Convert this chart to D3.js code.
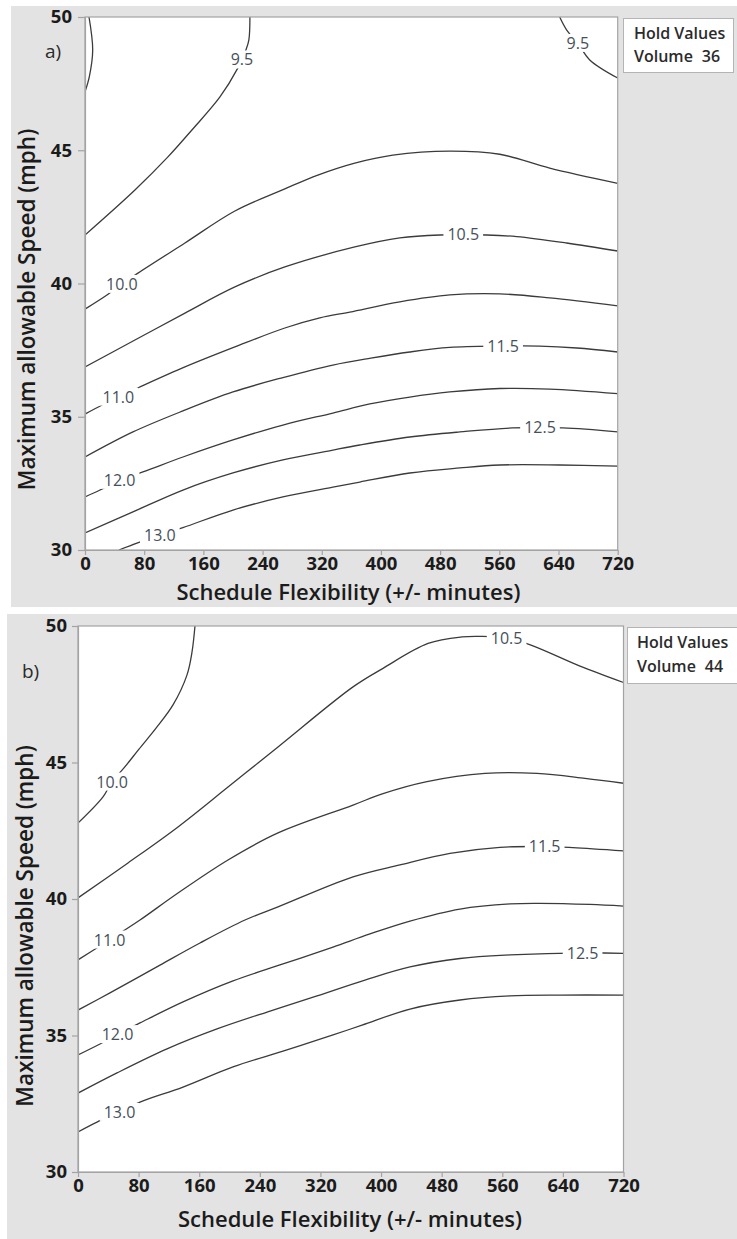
<!DOCTYPE html>
<html>
<head>
<meta charset="utf-8">
<script src="https://cdn.jsdelivr.net/npm/d3@7"></script>
<style>
  html, body { margin: 0; padding: 0; background: #ffffff; }
  svg { display: block; }
  text { font-family: "Open Sans", "Noto Sans", "DejaVu Sans", sans-serif; }
</style>
</head>
<body>
<svg id="chart" width="737" height="1239"></svg>
<script>
// Axis ticks shared by both panels
const xTickValues = [0, 80, 160, 240, 320, 400, 480, 560, 640, 720];
const yTickValues = [30, 35, 40, 45, 50];
const xDomain = [0, 720];
const yDomain = [30, 50];

const xTitle = "Schedule Flexibility (+/- minutes)";
const yTitle = "Maximum allowable Speed (mph)";
const panelLetters = ["a)", "b)"];
const holdVolumes = [36, 44];

// Contour lines, panel a (Volume held at 36): [minutes, mph] points along each level
const contoursA = [
  { level: 9.0, labelAt: null,
    pts: [[5.4, 50.0], [10.4, 48.76], [5.8, 47.75], [0, 47.19]] },
  { level: 9.5, labelAt: 212,
    pts: [[222.9, 50.0], [221.5, 49.14], [217.5, 48.76], [206.7, 48.09], [182.4, 47.0],
          [144.5, 45.76], [112.1, 44.75], [67.5, 43.51], [0, 41.82]] },
  { level: 9.5, labelAt: 666,
    pts: [[641.6, 50.0], [651.1, 49.51], [666.0, 49.02], [682.2, 48.39], [720, 47.71]] },
  { level: 10.0, labelAt: 50,
    pts: [[0, 39.04], [29.7, 39.57], [50.0, 39.98], [71.6, 40.39], [135.1, 41.52], [202.6, 42.72],
          [270.1, 43.55], [314.7, 44.07], [364.7, 44.52], [416.1, 44.82], [493.1, 44.97],
          [560.6, 44.85], [628.1, 44.33], [720, 43.76]] },
  { level: 10.5, labelAt: 511,
    pts: [[0, 36.87], [67.5, 37.88], [135.1, 38.89], [202.6, 39.87], [270.1, 40.62], [364.7, 41.37],
          [425.5, 41.71], [479.5, 41.82], [543.0, 41.82], [583.6, 41.76], [651.1, 41.52], [720, 41.22]] },
  { level: 11.0, labelAt: 45,
    pts: [[0, 35.10], [23.0, 35.44], [44.6, 35.74], [74.3, 36.12], [135.1, 36.87], [202.6, 37.62],
          [270.1, 38.33], [317.4, 38.71], [358.0, 38.93], [425.5, 39.31], [493.1, 39.57], [560.6, 39.61],
          [628.1, 39.46], [720, 39.16]] },
  { level: 11.5, labelAt: 565,
    pts: [[0, 33.49], [64.8, 34.43], [132.4, 35.22], [200.0, 35.93], [267.5, 36.47], [335.0, 36.94],
          [386.3, 37.20], [439.0, 37.43], [493.1, 37.60], [560.6, 37.65], [614.6, 37.65],
          [664.6, 37.58], [720, 37.43]] },
  { level: 12.0, labelAt: 47,
    pts: [[0, 31.99], [20.3, 32.25], [47.3, 32.63], [78.3, 32.93], [132.4, 33.49], [200.0, 34.13],
          [267.5, 34.69], [335.0, 35.14], [385.0, 35.48], [439.0, 35.74], [493.1, 35.93],
          [560.6, 36.06], [628.1, 36.04], [720, 35.87]] },
  { level: 12.5, labelAt: 615,
    pts: [[0, 30.64], [64.8, 31.43], [132.4, 32.25], [200.0, 32.89], [267.5, 33.38], [335.0, 33.75],
          [371.5, 33.94], [439.0, 34.24], [506.6, 34.43], [578.2, 34.58], [645.7, 34.58], [720, 34.43]] },
  { level: 13.0, labelAt: 101,
    pts: [[45.9, 30.0], [70.2, 30.26], [101.3, 30.56], [132.4, 30.84], [200.0, 31.50], [267.5, 31.99],
          [335.0, 32.36], [371.5, 32.55], [439.0, 32.89], [506.6, 33.08], [560.6, 33.19],
          [641.6, 33.19], [720, 33.15]] }
];

// Contour lines, panel b (Volume held at 44)
const contoursB = [
  { level: 10.0, labelAt: 45,
    pts: [[154.4, 50.0], [150.5, 49.05], [143.9, 48.21], [125.4, 47.11], [103.0, 46.26], [80.5, 45.49],
          [60.7, 44.80], [44.9, 44.29], [33.0, 43.74], [0, 42.78]] },
  { level: 10.5, labelAt: 566,
    pts: [[0, 40.04], [66.0, 41.32], [132.0, 42.64], [198.0, 44.10], [264.0, 45.57], [363.0, 47.77],
          [402.6, 48.45], [462.0, 49.36], [506.8, 49.60], [530.6, 49.62], [566.3, 49.56],
          [597.9, 49.30], [662.6, 48.53], [720, 47.93]] },
  { level: 11.0, labelAt: 42,
    pts: [[0, 37.77], [29.0, 38.28], [55.4, 38.75], [81.8, 39.23], [132.0, 40.22], [198.0, 41.43],
          [264.0, 42.42], [363.0, 43.44], [402.6, 43.86], [460.6, 44.30], [537.2, 44.60],
          [605.8, 44.60], [669.2, 44.42], [720, 44.24]] },
  { level: 11.5, labelAt: 616,
    pts: [[0, 35.93], [42.2, 36.56], [108.2, 37.58], [161.0, 38.39], [220.4, 39.23], [264.0, 39.71],
          [363.0, 40.81], [425.0, 41.25], [491.0, 41.67], [557.0, 41.89], [616.4, 41.92],
          [653.3, 41.88], [720, 41.76]] },
  { level: 12.0, labelAt: 52,
    pts: [[0, 34.29], [29.0, 34.69], [55.4, 35.09], [81.8, 35.46], [138.6, 36.23], [204.6, 37.00],
          [270.6, 37.62], [336.6, 38.24], [385.4, 38.72], [438.2, 39.19], [504.2, 39.63],
          [570.2, 39.82], [609.8, 39.84], [675.8, 39.80], [720, 39.74]] },
  { level: 12.5, labelAt: 666,
    pts: [[0, 32.89], [51.5, 33.63], [117.5, 34.51], [183.5, 35.24], [249.5, 35.86], [315.5, 36.45],
          [378.8, 37.03], [438.2, 37.51], [504.2, 37.82], [570.2, 37.95], [666.6, 38.03], [720, 38.01]] },
  { level: 13.0, labelAt: 55,
    pts: [[0, 31.47], [25.1, 31.83], [55.4, 32.20], [81.8, 32.56], [138.6, 33.11], [204.6, 33.85],
          [270.6, 34.43], [336.6, 35.02], [374.9, 35.38], [438.2, 35.97], [504.2, 36.30],
          [570.2, 36.45], [636.2, 36.48], [720, 36.48]] }
];

const svg = d3.select("#chart");

// Page geometry of each panel
const panels = [
  { id: "a", contours: contoursA, letter: panelLetters[0], volume: holdVolumes[0],
    bg: [11, 6, 726, 601], left: 85, right: 617.7, top: 17, bottom: 550,
    yTick: { size: 7, pad: 6 },
    legend: { x: 623, y: 18, w: 110, h: 54, tx: 634, ty1: 39, ty2: 62 },
    xTitle: { x: 348.4, y: 600 }, yTitle: { x: 35, y: 309.5 },
    letterPos: { x: 45, y: 58 } },
  { id: "b", contours: contoursB, letter: panelLetters[1], volume: holdVolumes[1],
    bg: [7, 614, 730, 625], left: 78, right: 623.5, top: 626, bottom: 1172,
    yTick: { size: 6, pad: 5 },
    legend: { x: 627, y: 627, w: 112, h: 56, tx: 637, ty1: 648, ty2: 672 },
    xTitle: { x: 350, y: 1227 }, yTitle: { x: 33, y: 926 },
    letterPos: { x: 22, y: 678 } }
];

const lineColor = "#3b3b3b";
const frameColor = "#a3a3a3";
const labelColor = "#46505b";
const textColor = "#1b1b1b";

panels.forEach(p => {
  const g = svg.append("g").attr("class", "panel-" + p.id);

  g.append("rect")
    .attr("x", p.bg[0]).attr("y", p.bg[1])
    .attr("width", p.bg[2]).attr("height", p.bg[3])
    .attr("fill", "#e3e3e3");

  const x = d3.scaleLinear().domain(xDomain).range([p.left, p.right]);
  const y = d3.scaleLinear().domain(yDomain).range([p.bottom, p.top]);

  // plot area
  g.append("rect")
    .attr("x", p.left).attr("y", p.top)
    .attr("width", p.right - p.left).attr("height", p.bottom - p.top)
    .attr("fill", "#ffffff");

  const clipId = "clip-" + p.id;
  g.append("clipPath").attr("id", clipId)
    .append("rect")
    .attr("x", p.left).attr("y", p.top)
    .attr("width", p.right - p.left).attr("height", p.bottom - p.top);

  const line = d3.line()
    .x(d => x(d[0]))
    .y(d => y(d[1]))
    .curve(d3.curveCatmullRom.alpha(0.5));

  const linesG = g.append("g").attr("clip-path", `url(#${clipId})`);
  const paths = p.contours.map(c =>
    linesG.append("path")
      .attr("d", line(c.pts))
      .attr("fill", "none")
      .attr("stroke", lineColor)
      .attr("stroke-width", 1.3)
      .attr("stroke-linejoin", "round")
  );

  // contour labels, sitting on the line with a gap cut behind them
  const labelsG = g.append("g");
  p.contours.forEach((c, i) => {
    if (c.labelAt == null) return;
    const node = paths[i].node();
    const total = node.getTotalLength();
    const targetX = x(c.labelAt);
    let best = null;
    for (let s = 0; s <= total; s += 0.5) {
      const pt = node.getPointAtLength(s);
      const dx = Math.abs(pt.x - targetX);
      if (!best || dx < best.dx) best = { dx, pt };
    }
    const t = labelsG.append("text")
      .attr("x", best.pt.x)
      .attr("y", best.pt.y)
      .attr("dy", "0.36em")
      .attr("text-anchor", "middle")
      .attr("font-size", 16)
      .attr("fill", labelColor)
      .text(c.level.toFixed(1));
    const bb = t.node().getBBox();
    labelsG.insert("rect", "text")
      .attr("x", bb.x - 4).attr("y", bb.y + 2)
      .attr("width", bb.width + 8).attr("height", bb.height - 4)
      .attr("fill", "#ffffff");
  });

  // frame
  g.append("rect")
    .attr("x", p.left).attr("y", p.top)
    .attr("width", p.right - p.left).attr("height", p.bottom - p.top)
    .attr("fill", "none")
    .attr("stroke", frameColor)
    .attr("stroke-width", 1.2);

  // axes
  const xAxis = g.append("g")
    .attr("transform", `translate(0,${p.bottom})`)
    .call(d3.axisBottom(x).tickValues(xTickValues).tickSize(5).tickSizeOuter(0).tickPadding(2));
  const yAxis = g.append("g")
    .attr("transform", `translate(${p.left},0)`)
    .call(d3.axisLeft(y).tickValues(yTickValues).tickSize(p.yTick.size).tickSizeOuter(0).tickPadding(p.yTick.pad));
  [xAxis, yAxis].forEach(a => {
    a.select(".domain").attr("stroke", frameColor).attr("stroke-width", 1.2);
    a.selectAll(".tick line").attr("stroke", frameColor).attr("stroke-width", 1.2);
    a.selectAll(".tick text")
      .attr("font-family", "Open Sans, Noto Sans, sans-serif")
      .attr("font-size", 18.5)
      .attr("font-weight", 700)
      .attr("fill", textColor);
  });

  // axis titles
  g.append("text")
    .attr("x", p.xTitle.x).attr("y", p.xTitle.y)
    .attr("text-anchor", "middle")
    .attr("font-size", 22).attr("font-weight", 600)
    .attr("fill", textColor)
    .text(xTitle);
  g.append("text")
    .attr("transform", `translate(${p.yTitle.x},${p.yTitle.y}) rotate(-90)`)
    .attr("text-anchor", "middle")
    .attr("font-size", 22.5).attr("font-weight", 600)
    .attr("fill", textColor)
    .text(yTitle);

  // panel letter
  g.append("text")
    .attr("x", p.letterPos.x).attr("y", p.letterPos.y)
    .attr("font-size", 19)
    .attr("fill", "#2a2a2a")
    .text(p.letter);

  // hold values box
  const lg = p.legend;
  g.append("rect")
    .attr("x", lg.x + 0.5).attr("y", lg.y + 0.5)
    .attr("width", lg.w).attr("height", lg.h)
    .attr("fill", "#ffffff")
    .attr("stroke", "#b4b4b4");
  g.append("text")
    .attr("x", lg.tx).attr("y", lg.ty1)
    .attr("font-size", 16).attr("font-weight", 600)
    .attr("fill", "#2b2b2b")
    .text("Hold Values");
  const vt = g.append("text")
    .attr("x", lg.tx).attr("y", lg.ty2)
    .attr("font-size", 16).attr("font-weight", 600)
    .attr("fill", "#2b2b2b");
  vt.append("tspan").text("Volume");
  vt.append("tspan").attr("dx", 9).text(String(p.volume));
});
</script>
</body>
</html>
